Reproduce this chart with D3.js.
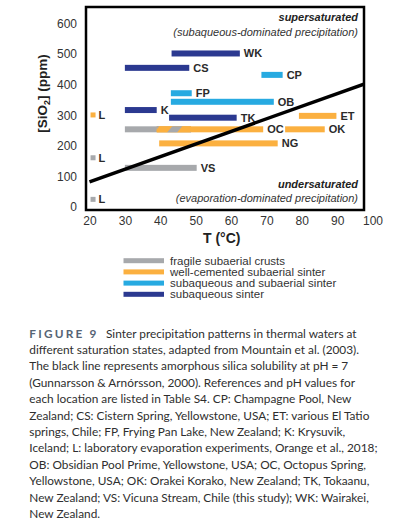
<!DOCTYPE html>
<html>
<head>
<meta charset="utf-8">
<script src="https://cdn.jsdelivr.net/npm/d3@7"></script>
<style>
  body { margin: 0; background: #fff; }
  svg { display: block; }
</style>
</head>
<body>
<svg id="chart" width="398" height="530"></svg>
<script>
// site bars: temperature range (°C) and silica (ppm)
var barSite  = ["WK", "CS", "CP", "FP", "OB", "K", "TK", "ET", "", "OC", "OK", "NG", "VS"];
var barType  = [3, 3, 2, 2, 2, 3, 3, 1, 0, 1, 1, 1, 0];
var barTmin  = [43.2, 30, 68.6, 43, 43, 30, 42.5, 79.2, 30, 39, 75.3, 39.7, 30];
var barTmax  = [62.5, 48.2, 74.6, 48.9, 72.1, 39, 61.6, 89.8, 48.7, 69.1, 86.5, 73.2, 50.3];
var barSiO2  = [502, 455, 432, 372, 344, 317, 292, 298, 254, 254, 254, 208, 128];

// laboratory experiments (L)
var labType = [1, 0, 0];
var labT    = [21, 21, 21];
var labSiO2 = [301, 161, 25];

// amorphous silica solubility at pH 7
var solT = [20, 100];
var solS = [82, 412];

var typeColors = ["#a7a9ac", "#fbb040", "#27aae1", "#2b3990"];
var typeLabels = ["fragile subaerial crusts", "well-cemented subaerial sinter",
                  "subaqueous and subaerial sinter", "subaqueous sinter"];

var xTicks = [20, 30, 40, 50, 60, 70, 80, 90, 100];
var yTicks = [0, 100, 200, 300, 400, 500, 600];

var captionLines = [
  "Sinter precipitation patterns in thermal waters at",
  "different saturation states, adapted from Mountain et al. (2003).",
  "The black line represents amorphous silica solubility at pH = 7",
  "(Gunnarsson & Arnórsson, 2000). References and pH values for",
  "each location are listed in Table S4. CP: Champagne Pool, New",
  "Zealand; CS: Cistern Spring, Yellowstone, USA; ET: various El Tatio",
  "springs, Chile; FP, Frying Pan Lake, New Zealand; K: Krysuvik,",
  "Iceland; L: laboratory evaporation experiments, Orange et al., 2018;",
  "OB: Obsidian Pool Prime, Yellowstone, USA; OC, Octopus Spring,",
  "Yellowstone, USA; OK: Orakei Korako, New Zealand; TK, Tokaanu,",
  "New Zealand; VS: Vicuna Stream, Chile (this study); WK: Wairakei,",
  "New Zealand."
];

var svg = d3.select("#chart");
var font = "'Liberation Sans', Arial, sans-serif";

// plot frame in pixels
var frame = {left: 86, right: 364, top: 7, bottom: 210};

var x = d3.scaleLinear().domain([20, 100]).range([89.5, 372.5]);
var y = d3.scaleLinear().domain([0, 600]).range([207, 23.5]);
var barH = 6;

var defs = svg.append("defs");
defs.append("clipPath").attr("id", "plotClip")
    .append("rect")
    .attr("x", frame.left).attr("y", frame.top)
    .attr("width", frame.right - frame.left)
    .attr("height", frame.bottom - frame.top);

// striped fill where the gray and orange OC bars overlap
var ocGray = barTmax[8], ocOrange = barTmin[9];
var stripe = defs.append("pattern")
    .attr("id", "hatch")
    .attr("patternUnits", "userSpaceOnUse")
    .attr("width", 23).attr("height", 20)
    .attr("patternTransform", "translate(" + x(ocOrange) + "," + y(barSiO2[9]) + ") skewX(-40)");
stripe.append("rect").attr("x", 0).attr("y", -10).attr("width", 13).attr("height", 40).attr("fill", typeColors[1]);
stripe.append("rect").attr("x", 13).attr("y", -10).attr("width", 10).attr("height", 40).attr("fill", typeColors[0]);

// annotations
var ann = svg.append("g")
    .attr("font-family", font)
    .attr("font-size", "11px")
    .attr("fill", "#222")
    .attr("text-anchor", "end")
    .attr("font-style", "italic");
ann.append("text").attr("x", 358).attr("y", 21).attr("font-weight", "bold").text("supersaturated");
ann.append("text").attr("x", 358).attr("y", 35.5).attr("fill", "#333").text("(subaqueous-dominated precipitation)");
ann.append("text").attr("x", 358).attr("y", 187.5).attr("font-weight", "bold").text("undersaturated");
ann.append("text").attr("x", 358).attr("y", 202).attr("fill", "#333").text("(evaporation-dominated precipitation)");

// bars
var bars = d3.range(barSite.length);
var plot = svg.append("g");

plot.selectAll("rect.bar")
    .data(bars)
    .join("rect")
    .attr("class", "bar")
    .attr("x", function (i) { return x(barTmin[i]); })
    .attr("y", function (i) { return y(barSiO2[i]) - barH / 2; })
    .attr("width", function (i) { return x(barTmax[i]) - x(barTmin[i]); })
    .attr("height", barH)
    .attr("fill", function (i) { return typeColors[barType[i]]; });

plot.append("rect")
    .attr("x", x(ocOrange))
    .attr("y", y(barSiO2[9]) - barH / 2)
    .attr("width", x(ocGray) - x(ocOrange))
    .attr("height", barH)
    .attr("fill", "url(#hatch)");

plot.selectAll("text.site")
    .data(bars.filter(function (i) { return barSite[i] !== ""; }))
    .join("text")
    .attr("class", "site")
    .attr("x", function (i) { return x(barTmax[i]) + 4; })
    .attr("y", function (i) { return y(barSiO2[i]); })
    .attr("dy", "0.36em")
    .attr("font-family", font)
    .attr("font-size", "11px")
    .attr("font-weight", "bold")
    .attr("fill", "#2a2a2a")
    .text(function (i) { return barSite[i]; });

// lab squares
var labs = d3.range(labT.length);
plot.selectAll("rect.lab")
    .data(labs)
    .join("rect")
    .attr("class", "lab")
    .attr("x", function (i) { return x(labT[i]) - 2.5; })
    .attr("y", function (i) { return y(labSiO2[i]) - 2.5; })
    .attr("width", 5).attr("height", 5)
    .attr("fill", function (i) { return typeColors[labType[i]]; });

plot.selectAll("text.lab")
    .data(labs)
    .join("text")
    .attr("class", "lab")
    .attr("x", function (i) { return x(labT[i]) + 5.5; })
    .attr("y", function (i) { return y(labSiO2[i]); })
    .attr("dy", "0.36em")
    .attr("font-family", font)
    .attr("font-size", "11px")
    .attr("font-weight", "bold")
    .attr("fill", "#2a2a2a")
    .text("L");

// solubility line
var line = d3.line()
    .x(function (i) { return x(solT[i]); })
    .y(function (i) { return y(solS[i]); });
svg.append("path")
    .datum(d3.range(solT.length))
    .attr("clip-path", "url(#plotClip)")
    .attr("fill", "none")
    .attr("stroke", "#000")
    .attr("stroke-width", 3.5)
    .attr("d", line);

// frame
svg.append("rect")
    .attr("x", frame.left).attr("y", frame.top)
    .attr("width", frame.right - frame.left)
    .attr("height", frame.bottom - frame.top)
    .attr("fill", "none")
    .attr("stroke", "#000")
    .attr("stroke-width", 2.5);

// axes
var xAxis = svg.append("g")
    .attr("transform", "translate(0," + (frame.bottom + 3) + ")")
    .call(d3.axisBottom(x).tickValues(xTicks).tickSize(0).tickPadding(3));
var yAxis = svg.append("g")
    .attr("transform", "translate(80,0)")
    .call(d3.axisLeft(y).tickValues(yTicks).tickSize(0).tickPadding(3));
[xAxis, yAxis].forEach(function (g) {
    g.select(".domain").remove();
    g.selectAll("text")
        .attr("font-family", font)
        .attr("font-size", "12px")
        .attr("fill", "#333");
});

// axis titles
svg.append("text")
    .attr("x", 221.7).attr("y", 243)
    .attr("text-anchor", "middle")
    .attr("font-family", font)
    .attr("font-size", "14px")
    .attr("font-weight", "bold")
    .attr("fill", "#222")
    .text("T (°C)");

var yTitle = svg.append("text")
    .attr("transform", "translate(46.5,93.5) rotate(-90)")
    .attr("text-anchor", "middle")
    .attr("font-family", font)
    .attr("font-size", "13.5px")
    .attr("font-weight", "bold")
    .attr("fill", "#222");
yTitle.append("tspan").text("[SiO");
yTitle.append("tspan").attr("font-size", "9px").attr("dy", "3").text("2");
yTitle.append("tspan").attr("dy", "-3").text("] (ppm)");

// legend
var legend = svg.append("g")
    .selectAll("g")
    .data(typeLabels)
    .join("g")
    .attr("transform", function (d, i) { return "translate(123.5," + (260.7 + i * 11.2) + ")"; });
legend.append("rect")
    .attr("x", 0).attr("y", -2.5)
    .attr("width", 40.5).attr("height", 5)
    .attr("fill", function (d, i) { return typeColors[i]; });
legend.append("text")
    .attr("x", 46.5)
    .attr("dy", "0.36em")
    .attr("font-family", font)
    .attr("font-size", "11.5px")
    .attr("fill", "#333")
    .text(function (d) { return d; });

// caption, sized so the second line spans the same width as in the figure
var capLeft = 29.3, capWidth = 330, capTop = 337.5, capStep = 16.4;
var cap = svg.append("g")
    .attr("font-family", "Lato, sans-serif")
    .attr("font-size", "13.5px")
    .attr("fill", "#2e2e2e");
var capText = cap.selectAll("text")
    .data(captionLines)
    .join("text")
    .attr("x", function (d, i) { return i === 0 ? 106 : capLeft; })
    .attr("y", function (d, i) { return capTop + i * capStep; })
    .text(function (d) { return d; });
var probe = capText.filter(function (d, i) { return i === 1; }).node();
var capSize = 13.5 * capWidth / probe.getComputedTextLength();
cap.attr("font-size", capSize + "px");
cap.append("text")
    .attr("x", capLeft).attr("y", capTop)
    .attr("letter-spacing", "2.2px")
    .attr("font-weight", "bold")
    .attr("fill", "#566474")
    .text("FIGURE 9");
</script>
</body>
</html>
